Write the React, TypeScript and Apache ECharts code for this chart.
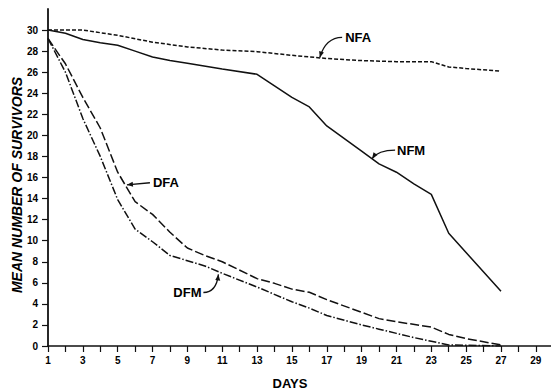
import React, { useEffect, useRef } from "react";
import * as echarts from "echarts";

const nfaDays = [1, 3, 5, 7, 9, 11, 13, 15, 17, 19, 21, 23, 24, 25, 27];
const nfaValues = [30, 30, 29.5, 28.85, 28.4, 28.1, 27.95, 27.6, 27.3, 27.1, 27.0, 27.0, 26.5, 26.35, 26.1];

const nfmDays = [1, 2, 3, 4, 5, 6, 7, 8, 9, 11, 13, 14, 15, 16, 17, 19, 20, 21, 22, 23, 24, 27];
const nfmValues = [30, 29.7, 29.1, 28.8, 28.55, 28.0, 27.45, 27.1, 26.85, 26.3, 25.8, 24.7, 23.6, 22.7, 20.9, 18.5, 17.3, 16.5, 15.4, 14.4, 10.7, 5.2];

const dfaDays = [1, 1.7, 2, 3, 4, 5, 6, 7, 8, 9, 10, 11, 13, 14, 15, 16, 17, 19, 20, 21, 23, 24, 25, 27];
const dfaValues = [29.2, 27.5, 26.8, 23.6, 20.7, 16.5, 13.7, 12.5, 10.8, 9.3, 8.6, 8.0, 6.4, 5.95, 5.4, 5.1, 4.4, 3.2, 2.6, 2.3, 1.8, 1.1, 0.7, 0.1];

const dfmDays = [1, 2, 3, 4, 5, 6, 7, 8, 9, 10, 11, 13, 15, 16, 17, 19, 20, 21, 22, 23, 24, 27];
const dfmValues = [29.2, 26.0, 21.6, 18.0, 13.9, 11.1, 9.9, 8.6, 8.1, 7.6, 6.9, 5.6, 4.2, 3.6, 2.9, 2.0, 1.6, 1.2, 0.8, 0.45, 0.1, 0];

const xTickDays = [1, 2, 3, 4, 5, 6, 7, 8, 9, 10, 11, 12, 13, 14, 15, 16, 17, 18, 19, 20, 21, 22, 23, 24, 25, 26, 27, 28, 29];
const xLabelDays = [1, 3, 5, 7, 9, 11, 13, 15, 17, 19, 21, 23, 25, 27, 29];
const yTickValues = [0, 2, 4, 6, 8, 10, 12, 14, 16, 18, 20, 22, 24, 26, 28, 30];

// annotation labels: text, label center (day, value), arrow target (day, value)
const labelNames = ["NFA", "NFM", "DFA", "DFM"];
const labelAt = [[18.8, 29.3], [21.84, 18.6], [7.77, 15.5], [9.0, 5.08]];
const arrowTo = [[16.6, 27.4], [19.6, 17.8], [5.53, 15.3], [10.78, 6.8]];

const INK = "#111";
const FONT = "'Liberation Sans', Arial, sans-serif";

function pairs(d: number[], v: number[]) {
  return d.map((x, i) => [x, v[i]]);
}

export default function App() {
  const ref = useRef<HTMLDivElement>(null);
  useEffect(() => {
    if (!ref.current) return;
    document.body.style.margin = "0";
    const chart = echarts.init(ref.current, null, { renderer: "svg" });
    const lineSeries = (name: string, data: number[][], type: any) => ({
      name,
      type: "line",
      data,
      showSymbol: false,
      symbol: "none",
      lineStyle: { color: INK, width: 1.5, type },
      z: 3,
    });
    chart.setOption({
      animation: false,
      backgroundColor: "#fff",
      grid: { left: 48, right: 0, top: 9, bottom: 44 },
      xAxis: {
        type: "value",
        min: 1,
        max: 29.87,
        axisLine: { show: true, lineStyle: { color: INK, width: 1.5 } },
        axisTick: { show: true, customValues: xTickDays, length: 6, lineStyle: { color: INK, width: 1.2 } },
        axisLabel: {
          customValues: xLabelDays,
          margin: 9,
          color: "#000",
          fontSize: 10,
          fontWeight: "bold",
          fontFamily: FONT,
        },
        splitLine: { show: false },
      },
      yAxis: {
        type: "value",
        min: 0,
        max: 32,
        axisLine: { show: true, lineStyle: { color: INK, width: 1.8 } },
        axisTick: { show: true, customValues: yTickValues, length: 6, lineStyle: { color: INK, width: 1.2 } },
        axisLabel: {
          customValues: yTickValues,
          margin: 10,
          color: "#000",
          fontSize: 10,
          fontWeight: "bold",
          fontFamily: FONT,
        },
        splitLine: { show: false },
      },
      series: [
        lineSeries("NFA", pairs(nfaDays, nfaValues), [4, 2]),
        lineSeries("NFM", pairs(nfmDays, nfmValues), "solid"),
        lineSeries("DFA", pairs(dfaDays, dfaValues), [9, 3]),
        lineSeries("DFM", pairs(dfmDays, dfmValues), [8, 2, 1.5, 2]),
      ],
    });

    const toPx = (p: number[]) => chart.convertToPixel({ gridIndex: 0 }, p) as number[];
    const graphics: any[] = [
      {
        type: "text",
        x: 290,
        y: 383,
        style: { text: "DAYS", fill: "#000", font: `bold 13px ${FONT}`, textAlign: "center", textVerticalAlign: "middle" },
      },
      {
        type: "text",
        x: 17,
        y: 185,
        rotation: Math.PI / 2,
        style: {
          text: "MEAN NUMBER OF SURVIVORS",
          fill: "#000",
          font: `italic bold 14px ${FONT}`,
          textAlign: "center",
          textVerticalAlign: "middle",
        },
      },
    ];
    labelNames.forEach((name, i) => {
      const c = toPx(labelAt[i]);
      const t = toPx(arrowTo[i]);
      graphics.push({
        type: "text",
        x: c[0],
        y: c[1],
        style: { text: name, fill: "#000", font: `bold 13px ${FONT}`, textAlign: "center", textVerticalAlign: "middle" },
      });
      const half = 15;
      const sx = name === "DFM" ? c[0] + half + 1 : c[0] - half - 1;
      const sy = c[1];
      let cx: number, cy: number;
      if (name === "DFA") {
        cx = (sx + t[0]) / 2;
        cy = (sy + t[1]) / 2;
      } else if (name === "DFM") {
        cx = t[0] - 2;
        cy = sy;
      } else {
        cx = t[0] + 6;
        cy = sy;
      }
      graphics.push({
        type: "bezierCurve",
        shape: { x1: sx, y1: sy, x2: t[0], y2: t[1], cpx1: cx, cpy1: cy },
        style: { stroke: INK, lineWidth: 1.3, fill: "none" },
      });
      const dx = t[0] - cx;
      const dy = t[1] - cy;
      const len = Math.sqrt(dx * dx + dy * dy) || 1;
      const ux = dx / len;
      const uy = dy / len;
      const L = 6;
      const W = 2.5;
      graphics.push({
        type: "polygon",
        shape: {
          points: [
            [t[0], t[1]],
            [t[0] - ux * L - uy * W, t[1] - uy * L + ux * W],
            [t[0] - ux * L + uy * W, t[1] - uy * L - ux * W],
          ],
        },
        style: { fill: INK },
      });
    });
    chart.setOption({ graphic: graphics });
    return () => chart.dispose();
  }, []);
  return <div ref={ref} style={{ width: 551, height: 390 }} />;
}
